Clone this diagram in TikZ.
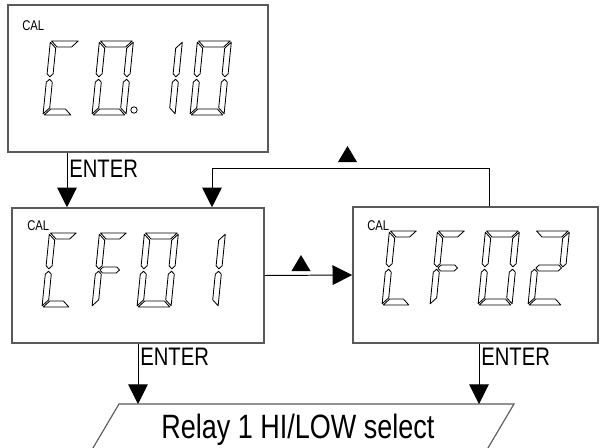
\documentclass[tikz,border=0pt]{standalone}
\usepackage{fontspec}
\setmainfont{Liberation Sans}[FakeStretch=0.8]
\usetikzlibrary{arrows.meta, fit}

% segments of one LCD digit (local px, origin bottom left, width \lcdW)
\newcommand{\lcdsega}{\draw[lcdseg] (1.2,74) -- ({\lcdW-1.2},74) -- ({\lcdW-7.2},68) -- (7.2,68) -- cycle;}
\newcommand{\lcdsegb}{\draw[lcdseg] (\lcdW,72.8) -- ({\lcdW-6},66.8) -- ({\lcdW-6},41.2) -- ({\lcdW-3},38.2) -- (\lcdW,41.2) -- cycle;}
\newcommand{\lcdsegc}{\draw[lcdseg] (\lcdW,1.2) -- ({\lcdW-6},7.2) -- ({\lcdW-6},32.8) -- ({\lcdW-3},35.8) -- (\lcdW,32.8) -- cycle;}
\newcommand{\lcdsegd}{\draw[lcdseg] (1.2,0) -- ({\lcdW-1.2},0) -- ({\lcdW-7.2},6) -- (7.2,6) -- cycle;}
\newcommand{\lcdsege}{\draw[lcdseg] (0,1.2) -- (6,7.2) -- (6,32.8) -- (3,35.8) -- (0,32.8) -- cycle;}
\newcommand{\lcdsegf}{\draw[lcdseg] (0,72.8) -- (6,66.8) -- (6,41.2) -- (3,38.2) -- (0,41.2) -- cycle;}
\newcommand{\lcdsegg}{\draw[lcdseg] (4.2,37) -- (7.2,40) -- ({\lcdW-7.2},40) -- ({\lcdW-4.2},37) -- ({\lcdW-7.2},34) -- (7.2,34) -- cycle;}

% #1,#2 = bottom left, #3 = width, #4 = lit segments
\newcommand{\lcddigit}[4]{%
  \begin{scope}[shift={(#1,#2)}, yscale=-1, xslant=-0.1]
    \def\lcdW{#3}
    \foreach \s in {#4}{\csname lcdseg\s\endcsname}
  \end{scope}}

\begin{document}
\begin{tikzpicture}[
        x=0.025cm, y=-0.025cm,
        lcdbox/.style={draw=black!65, line width=1.1pt, inner sep=0pt},
        lcdseg/.style={draw=black, line width=0.6pt, line join=round},
        arrow/.style={black, line width=0.7pt, -{Triangle[length=14pt, width=14pt]}},
        enterlbl/.style={anchor=base west, inner sep=0pt, font=\fontsize{18}{20}\selectfont},
        callbl/.style={anchor=base west, inner sep=0pt, font=\fontsize{10}{12}\selectfont},
        upkey/.pic={\fill (-9.5,0) -- (9.5,0) -- (0,-16) -- cycle;}
    ]
    \useasboundingbox (0,0) rectangle (600,448);
    \clip (0,0) rectangle (600,448);

    % ==========================================
    % DISPLAY 1: C0.10
    % ==========================================
    \node[lcdbox, fit={(8,5) (268,152)}] (c010) {};
    \node[callbl] (cal0) at (22,30) {CAL};
    \lcddigit{43}{115}{29}{a,d,e,f}
    \lcddigit{92}{115}{34}{a,b,c,d,e,f}
    \draw[lcdseg] (134,110) circle (3.2);
    \lcddigit{141}{115}{34}{b,c}
    \lcddigit{190}{115}{34}{a,b,c,d,e,f}

    % ==========================================
    % DISPLAY 2: CF01
    % ==========================================
    \node[lcdbox, fit={(12,208) (264,343)}] (cf01) {};
    \node[callbl] (cal1) at (27,230) {CAL};
    \lcddigit{42}{307}{28}{a,d,e,f}
    \lcddigit{92}{307}{28}{a,e,f,g}
    \lcddigit{137}{307}{34}{a,b,c,d,e,f}
    \lcddigit{184}{307}{34}{b,c}

    % ==========================================
    % DISPLAY 3: CF02
    % ==========================================
    \node[lcdbox, fit={(353,207) (598,343)}] (cf02) {};
    \node[callbl] (cal2) at (367,230) {CAL};
    \lcddigit{382}{305}{28}{a,d,e,f}
    \lcddigit{430}{305}{28}{a,e,f,g}
    \lcddigit{478}{305}{34}{a,b,c,d,e,f}
    \lcddigit{528}{305}{34}{a,b,g,e,d}

    % ==========================================
    % RELAY SELECT
    % ==========================================
    \draw[draw=black!65, line width=0.8pt] (90.6,452) -- (119,404) -- (514,404) -- (485.6,452);
    \node[anchor=base west, inner sep=0pt, font=\fontsize{24}{28}\selectfont] (relay) at (161,438) {Relay 1 HI/LOW select};
    \coordinate (relaytop) at (300,404);

    % connectors
    \coordinate (xa) at (67,0);
    \coordinate (xb) at (138,0);
    \coordinate (xc) at (479,0);
    \coordinate (xd) at (489,0);
    \coordinate (loop) at (212,168);

    \draw[arrow] (c010.south -| xa) -- (cf01.north -| xa);
    \node[enterlbl] (enter0) at (69,177) {ENTER};

    \draw[arrow] (cf02.north -| xd) |- (loop) -- (cf01.north -| loop);
    \pic at (347.5,162) {upkey};

    \draw[arrow] (cf01.east) -- (cf02.west);
    \pic at (301,271) {upkey};

    \draw[arrow] (cf01.south -| xb) -- (relaytop -| xb);
    \node[enterlbl] (enter1) at (140,365) {ENTER};
    \draw[arrow] (cf02.south -| xc) -- (relaytop -| xc);
    \node[enterlbl] (enter2) at (481,365) {ENTER};

\end{tikzpicture}
\end{document}
